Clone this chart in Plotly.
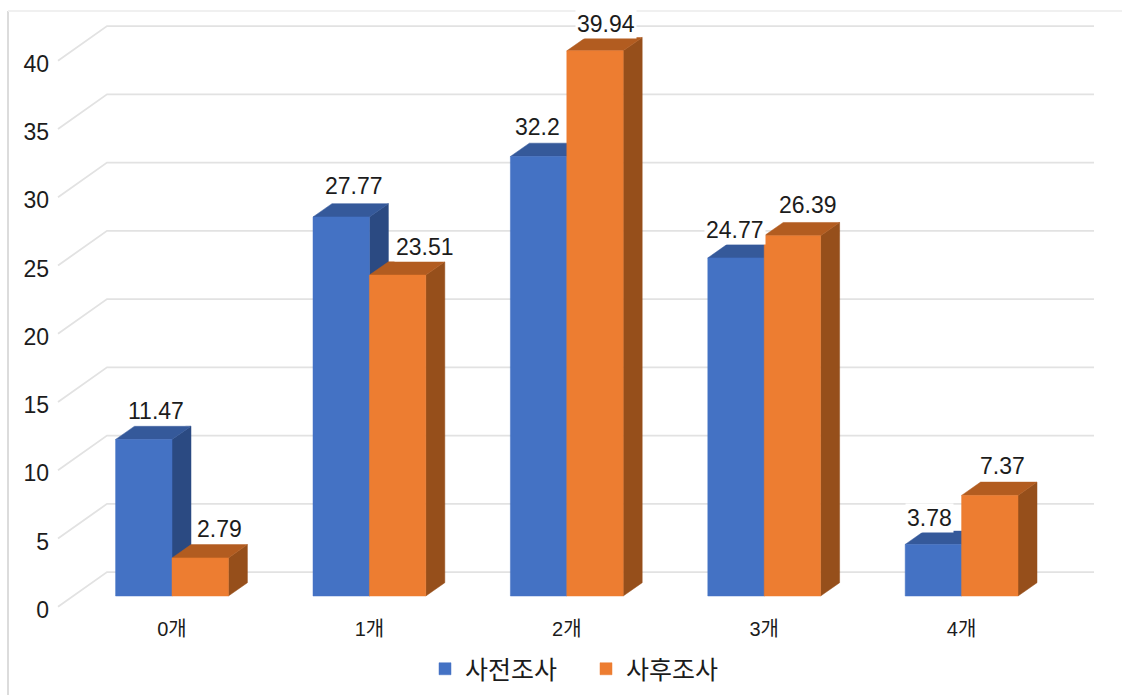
import plotly.graph_objects as go

categories = ["0개", "1개", "2개", "3개", "4개"]
series_names = ["사전조사", "사후조사"]
pre_values = [11.47, 27.77, 32.2, 24.77, 3.78]
post_values = [2.79, 23.51, 39.94, 26.39, 7.37]
y_ticks = [0, 5, 10, 15, 20, 25, 30, 35, 40]

# label nudges in pixels (manual data-label placement of the original)
pre_label_dx = [12, 13, -1, -1, -4]
pre_label_dy = [28, 31, 29, 28, 26]
post_label_dx = [19, 27, 11, 16, 13]
post_label_dy = [29, 28, 27, 31, 29]

W, H = 1122, 695
ML, MB = 52, 80
PLOT_W, PLOT_H = W - ML, H - MB
PX_PER_CAT = 197.4
PX_PER_VAL = 13.65
X0_PX, TICK0_PX, BAR0_PX = 172.0, 606.7, 596.0

def xu(px):
    return px / PX_PER_CAT

def yu(px):
    return px / PX_PER_VAL

x_range = [xu(ML - X0_PX), xu(W - X0_PX)]
y_range = [yu(TICK0_PX - PLOT_H), yu(TICK0_PX)]
bar_lift = yu(TICK0_PX - BAR0_PX)
y2_range = [y_range[0] - bar_lift, y_range[1] - bar_lift]

BAR_W = xu(56.4)
BAR_DX, BAR_DY = xu(19), yu(13.3)
WALL_DY = yu(34.6)
WALL_X0, WALL_X1, WALL_X2 = xu(58 - X0_PX), xu(107 - X0_PX), xu(1094 - X0_PX)

GRID = "#e2e2e2"
BLUE, BLUE_SIDE, BLUE_TOP = "#4472C4", "#2B4A82", "#35599A"
ORANGE, ORANGE_SIDE, ORANGE_TOP = "#ED7D31", "#964F1B", "#B25C20"
TEXT = "#1c1c1c"
FONT = "Liberation Sans, Noto Sans CJK KR, sans-serif"

fig = go.Figure()

# walls: gridlines
for t in y_ticks:
    fig.add_trace(go.Scatter(
        x=[WALL_X0, WALL_X1, WALL_X2], y=[t, t + WALL_DY, t + WALL_DY],
        mode="lines", line=dict(color=GRID, width=1.8),
        showlegend=False, hoverinfo="skip"))

def add_faces(values, left_of, side_col, top_col):
    for i, v in enumerate(values):
        x0 = i + left_of * BAR_W
        x1 = x0 + BAR_W
        yt = v + bar_lift
        yb = bar_lift
        fig.add_trace(go.Scatter(
            x=[x1, x1 + BAR_DX, x1 + BAR_DX, x1, x1],
            y=[yb, yb + BAR_DY, yt + BAR_DY, yt, yb],
            mode="lines", fill="toself", fillcolor=side_col,
            line=dict(color=side_col, width=0.5),
            showlegend=False, hoverinfo="skip"))
        fig.add_trace(go.Scatter(
            x=[x0, x1, x1 + BAR_DX, x0 + BAR_DX, x0],
            y=[yt, yt, yt + BAR_DY, yt + BAR_DY, yt],
            mode="lines", fill="toself", fillcolor=top_col,
            line=dict(color=top_col, width=0.5),
            showlegend=False, hoverinfo="skip"))

add_faces(pre_values, -1, BLUE_SIDE, BLUE_TOP)
add_faces(post_values, 0, ORANGE_SIDE, ORANGE_TOP)

# front faces on an overlaying subplot so they sit above the depth faces
fig.add_trace(go.Bar(
    x=list(range(len(categories))), y=pre_values, name=series_names[0],
    xaxis="x2", yaxis="y2", width=BAR_W, offset=-BAR_W,
    marker=dict(color=BLUE, line=dict(color=BLUE, width=0.5))))
fig.add_trace(go.Bar(
    x=list(range(len(categories))), y=post_values, name=series_names[1],
    xaxis="x2", yaxis="y2", width=BAR_W, offset=0,
    marker=dict(color=ORANGE, line=dict(color=ORANGE, width=0.5))))

annotations = []
for sign, vals, dxs, dys in ((-0.5, pre_values, pre_label_dx, pre_label_dy),
                             (0.5, post_values, post_label_dx, post_label_dy)):
    for i, v in enumerate(vals):
        annotations.append(dict(
            x=i + sign * BAR_W, y=v, xref="x2", yref="y2", text=str(v),
            showarrow=False, xshift=dxs[i], yshift=dys[i], xanchor="center", yanchor="middle",
            bgcolor="white", borderpad=1,
            font=dict(family=FONT, size=23, color=TEXT)))

fig.update_layout(
    width=W, height=H, autosize=False,
    margin=dict(l=ML, r=0, t=0, b=MB, pad=0),
    paper_bgcolor="white", plot_bgcolor="white",
    barmode="overlay",
    font=dict(family=FONT, color=TEXT),
    xaxis=dict(range=x_range, tickmode="array", tickvals=list(range(len(categories))),
               ticktext=categories, showgrid=False, zeroline=False, showline=False,
               ticks="", tickfont=dict(family=FONT, size=20, color=TEXT)),
    yaxis=dict(range=y_range, tickmode="array", tickvals=y_ticks, showgrid=False,
               zeroline=False, showline=False, ticks="", ticklabelstandoff=2, ticklabelshift=3,
               tickfont=dict(family=FONT, size=23, color=TEXT)),
    xaxis2=dict(range=x_range, overlaying="x", visible=False),
    yaxis2=dict(range=y2_range, overlaying="y", visible=False),
    legend=dict(orientation="h", x=(425 - ML) / PLOT_W, xanchor="left",
                y=(PLOT_H - 669) / PLOT_H, yanchor="middle",
                entrywidth=116, entrywidthmode="pixels", tracegroupgap=0,
                font=dict(family=FONT, size=25, color=TEXT)),
    annotations=annotations,
    shapes=[
        dict(type="line", xref="paper", yref="paper", x0=(8 - ML) / PLOT_W, x1=(8 - ML) / PLOT_W,
             y0=(PLOT_H - 11) / PLOT_H, y1=(PLOT_H - 695) / PLOT_H, line=dict(color="#dcdcdc", width=2)),
        dict(type="line", xref="paper", yref="paper", x0=(8 - ML) / PLOT_W, x1=(W - ML) / PLOT_W,
             y0=(PLOT_H - 11) / PLOT_H, y1=(PLOT_H - 11) / PLOT_H, line=dict(color="#f0f0f0", width=2)),
    ],
)

fig.write_html("out.html", post_script="document.body.style.margin='0';",
               config={"displayModeBar": False})
